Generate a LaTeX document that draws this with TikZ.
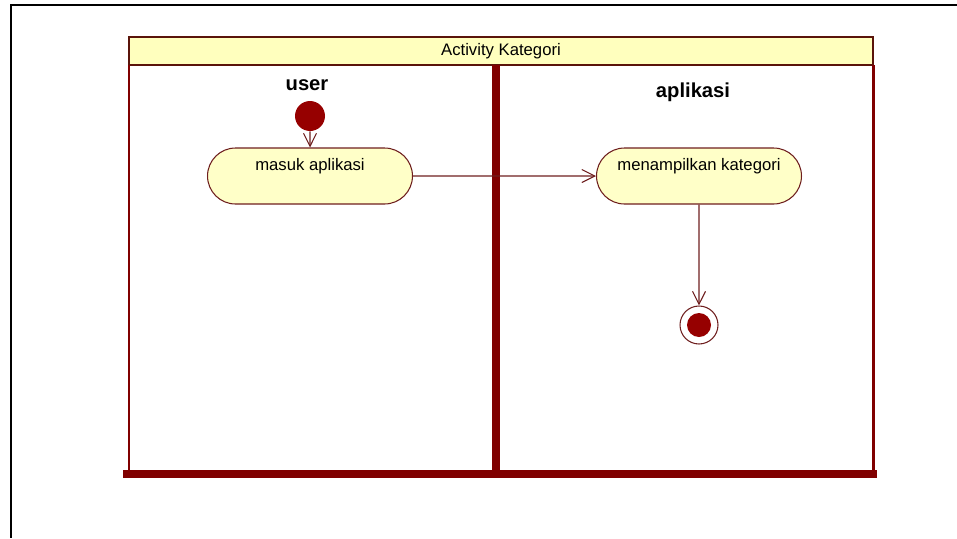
\documentclass[tikz,border=0pt]{standalone}
\usepackage{fontspec}
\setmainfont{Liberation Sans}
\usetikzlibrary{arrows.meta,shapes.misc}
\definecolor{lanered}{RGB}{128,0,0}
\definecolor{headline}{RGB}{90,20,10}
\definecolor{headfill}{RGB}{255,255,190}
\definecolor{actfill}{RGB}{255,255,200}
\definecolor{flowline}{RGB}{110,30,30}
\definecolor{startred}{RGB}{150,0,0}
\tikzset{every node/.style={font=\fontsize{9.5}{11}\selectfont}}

\begin{document}
\begin{tikzpicture}[x=0.02cm, y=-0.02cm,
    action/.style={rounded rectangle, draw=flowline, fill=actfill, line width=0.6pt,
        minimum width=4.1cm, minimum height=1.12cm, inner sep=0pt,
        text height=0.25cm, text depth=0.49cm},
    lanetitle/.style={font=\fontsize{11.5}{13}\selectfont\bfseries},
    flow/.style={draw=flowline, line width=0.6pt, -{Straight Barb[length=2.6mm,width=2.6mm]}}
    ]
    \useasboundingbox (0,0) rectangle (957,538);
    % outer frame
    \draw[line width=1.2pt] (957,5) -- (11,5) -- (11,538);
    % swimlanes
    \draw[fill=headfill, draw=headline, line width=1.2pt] (129,37) rectangle (873,65);
    \node (title) at (501,51) {Activity Kategori};
    \draw[lanered, line width=1.7pt] (129,65) -- (129,474);
    \draw[lanered, line width=1.7pt] (873,65) -- (873,474);
    \draw[lanered, line width=4pt] (496,65) -- (496,474);
    \fill[lanered] (123,470) rectangle (877,478);
    \node[lanetitle] (user) at (307,85) {user};
    \node[lanetitle] (aplikasi) at (693,92) {aplikasi};
    % activities
    \node[circle, fill=startred, minimum size=0.6cm, inner sep=0pt] (start) at (310,116) {};
    \node[action] (masuk) at (310,176) {masuk aplikasi};
    \node[action] (tampil) at (699,176) {menampilkan kategori};
    \node[circle, draw=flowline, line width=0.6pt, minimum size=0.76cm, inner sep=0pt] (end) at (699,325) {};
    \node[circle, fill=startred, minimum size=0.48cm, inner sep=0pt] (endfill) at (end) {};
    \draw[flow] (start) -- (masuk);
    \draw[flow] (masuk) -- (tampil);
    \draw[flow] (tampil) -- (end);
\end{tikzpicture}
\end{document}
